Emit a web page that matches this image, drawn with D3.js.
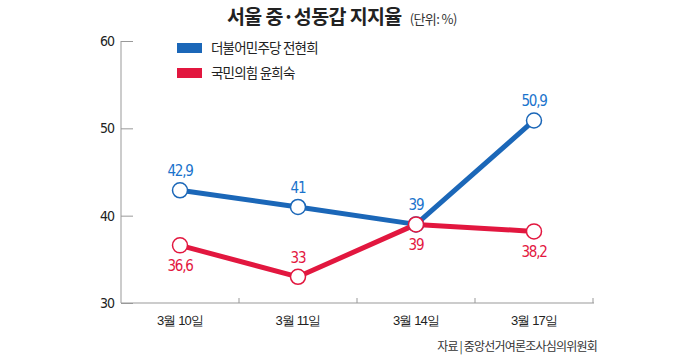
<!DOCTYPE html>
<html><head><meta charset="utf-8">
<script src="https://cdn.jsdelivr.net/npm/d3@7"></script>
<style>
body{margin:0;background:#fff;}
svg{display:block;font-family:"Noto Sans CJK KR","Noto Sans",sans-serif;}
</style></head><body>
<svg id="c" width="700" height="356"></svg>
<script>
const categories = ["3월 10일","3월 11일","3월 14일","3월 17일"];
const seriesNames = ["더불어민주당 전현희","국민의힘 윤희숙"];
const demValues = [42.9, 41, 39, 50.9];
const pppValues = [36.6, 33, 39, 38.2];
const demLabels = ["42,9","41","39","50,9"];
const pppLabels = ["36,6","33","39","38,2"];
const yTicks = [30,40,50,60];
const colors = ["#1b67b8","#e2173f"];
const labelColors = ["#1a73cc","#e3173f"];
// label placement: -1 above, 1 below
const demPos = [-1,-1,-1,-1];
const pppPos = [1,-1,1,1];

(function(){
const svg = d3.select("#c");
const mL=121, mR=593, mT=41, mB=303;
const x = d3.scaleBand().domain(categories).range([mL,mR]);
const y = d3.scaleLinear().domain([30,60]).range([mB,mT]);

// title
const t = svg.append("text").attr("x",227).attr("y",24).attr("fill","#222");
t.append("tspan").attr("font-size",19.5).attr("font-weight",700).attr("letter-spacing",-0.6).text("서울 중·성동갑 지지율");
t.append("tspan").attr("font-size",13).attr("dx",8).attr("letter-spacing",-0.6).attr("fill","#333").text("(단위: %)");

// y axis
const yAxis = d3.axisLeft(y).tickValues(yTicks).tickSize(-12).tickPadding(8);
const gy = svg.append("g").attr("transform",`translate(${mL},0)`).call(yAxis);
gy.select(".domain").attr("stroke","#999").attr("d",`M0,${mT}V${mB}`);
gy.selectAll(".tick line").attr("stroke","#999");
gy.selectAll(".tick text").attr("font-size",14).attr("fill","#222").attr("letter-spacing",-1).attr("x",-7)
  .attr("font-family","'Liberation Sans Narrow','DejaVu Sans Condensed',sans-serif");

// x axis
const xAxis = d3.axisBottom(x).tickSize(0).tickPadding(13);
const gx = svg.append("g").attr("transform",`translate(0,${mB})`).call(xAxis);
gx.select(".domain").attr("stroke","#999").attr("d",`M${mL},0H${mR+1}`);
gx.selectAll(".tick text").attr("font-size",13).attr("font-weight",500).attr("fill","#222").attr("letter-spacing",-0.9);
svg.append("g").selectAll("line").data(categories).join("line")
  .attr("x1",d=>x(d)+x.bandwidth()).attr("x2",d=>x(d)+x.bandwidth())
  .attr("y1",mB-5).attr("y2",mB).attr("stroke","#999");

const series = [
  {vals:demValues, labels:demLabels, pos:demPos, c:colors[0], lc:labelColors[0]},
  {vals:pppValues, labels:pppLabels, pos:pppPos, c:colors[1], lc:labelColors[1]}
];
const cx = d => x(d)+x.bandwidth()/2;
const line = d3.line().x(d=>cx(d.cat)).y(d=>y(d.v));
series.forEach(s=>{
  const pts = categories.map((c,i)=>({cat:c,v:s.vals[i],lab:s.labels[i],p:s.pos[i]}));
  s.pts = pts;
  svg.append("path").datum(pts).attr("d",line).attr("fill","none").attr("stroke",s.c).attr("stroke-width",5).attr("stroke-linejoin","round");
});
series.forEach(s=>{
  svg.append("g").selectAll("circle").data(s.pts).join("circle")
    .attr("cx",d=>cx(d.cat)).attr("cy",d=>y(d.v)).attr("r",7.5)
    .attr("fill","#fff").attr("stroke",s.c).attr("stroke-width",1.5);
  svg.append("g").selectAll("text").data(s.pts).join("text")
    .attr("x",d=>cx(d.cat)).attr("y",d=>y(d.v)+(d.p<0?-14:26))
    .attr("text-anchor","middle").attr("font-size",15).attr("letter-spacing",-1.2)
    .attr("font-family","'Liberation Sans Narrow','DejaVu Sans Condensed',sans-serif")
    .attr("fill",s.lc).text(d=>d.lab);
});

// legend
const lg = svg.append("g");
seriesNames.forEach((n,i)=>{
  lg.append("rect").attr("x",177).attr("y",43+i*25).attr("width",25).attr("height",10).attr("fill",colors[i]);
  lg.append("text").attr("x",211).attr("y",53+i*25).attr("font-size",13.5).attr("letter-spacing",-0.8).attr("fill","#222").text(n);
});

// source
svg.append("text").attr("x",597).attr("y",351).attr("text-anchor","end").attr("font-size",12).attr("letter-spacing",-0.8).attr("fill","#333").text("자료 | 중앙선거여론조사심의위원회");
})();
</script></body></html>
